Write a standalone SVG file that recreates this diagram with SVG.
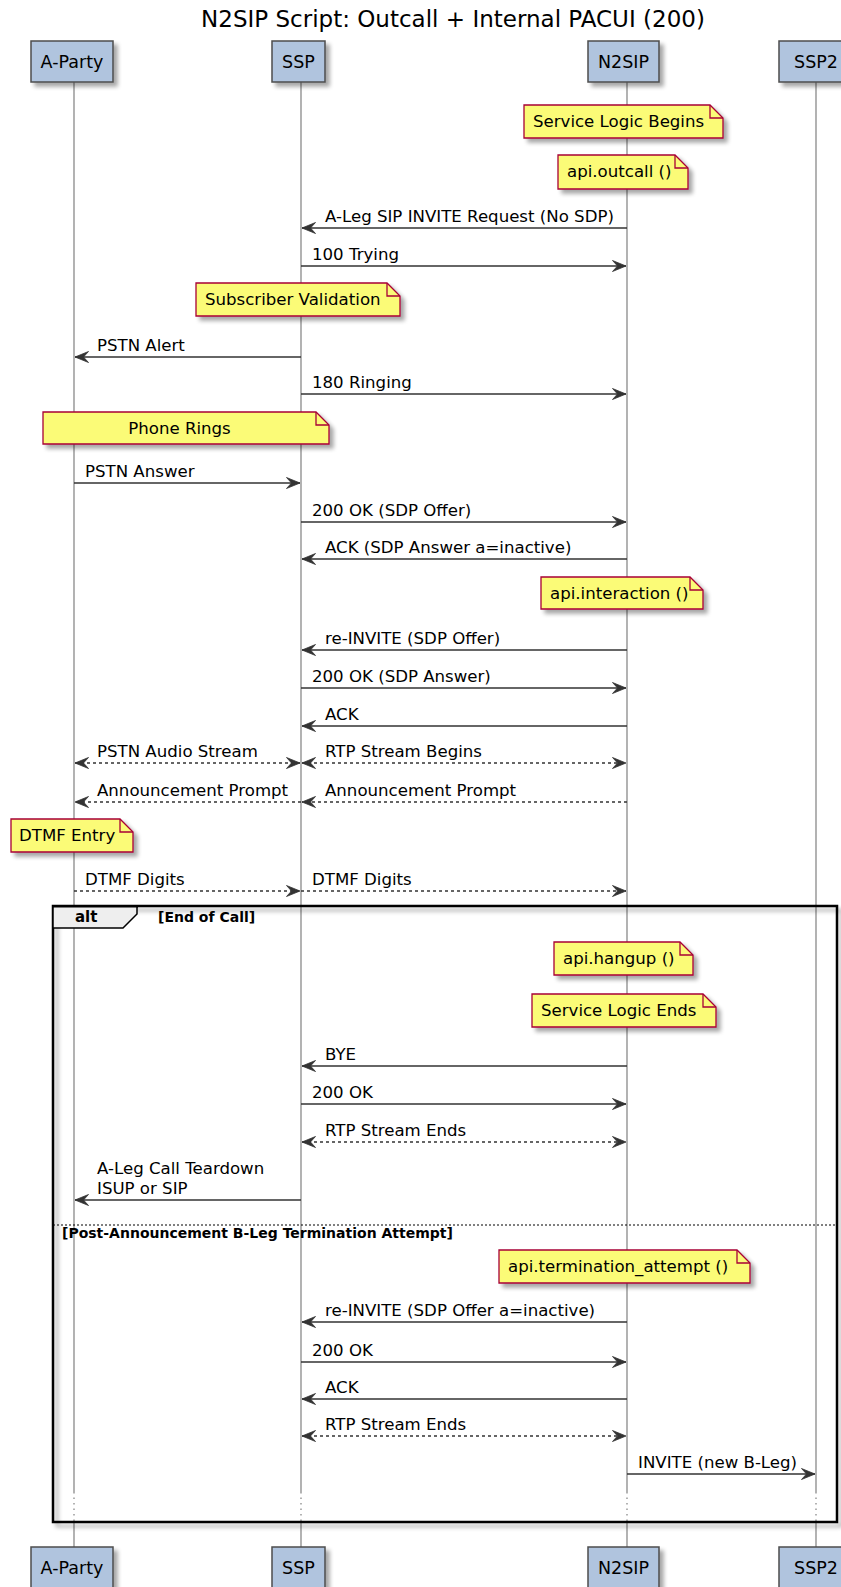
<svg xmlns="http://www.w3.org/2000/svg" width="841" height="1587" viewBox="0 0 841 1587">
<style>
text { font-family: "DejaVu Sans", "Liberation Sans", sans-serif; fill: #000; }
.title { font-size: 23px; text-anchor: middle; }
.pt { font-size: 17.5px; text-anchor: middle; }
.lbl { font-size: 16.6px; }
.nt { font-size: 16.6px; }
.b1 { font-size: 15px; font-weight: bold; }
.b2 { font-size: 14px; font-weight: bold; }
.pbox { fill: #B0C4DE; stroke: #4d4d4d; stroke-width: 1.5; }
.life { stroke: #8a8a8a; stroke-width: 1.3; fill: none; }
.dot { stroke-dasharray: 1.5 4; }
.note { fill: #FBFB77; stroke: #A80036; stroke-width: 1.3; }
.fold { fill: none; stroke: #A80036; stroke-width: 1.3; }
.msg { stroke: #333; stroke-width: 1.4; fill: none; marker-end: url(#ah); }
.dash { stroke-dasharray: 3 3; }
.both { marker-start: url(#ah); }
.frame { fill: none; stroke: #000; stroke-width: 2.5; }
.sep { stroke: #000; stroke-width: 1; stroke-dasharray: 2 2; }
.tab { fill: #EEEEEE; stroke: #000; stroke-width: 1.5; }
</style>
<defs>
<filter id="sh" x="-10%" y="-10%" width="130%" height="150%">
<feGaussianBlur in="SourceAlpha" stdDeviation="2"/>
<feOffset dx="4" dy="4"/>
<feComponentTransfer><feFuncA type="linear" slope="0.35"/></feComponentTransfer>
<feMerge><feMergeNode/><feMergeNode in="SourceGraphic"/></feMerge>
</filter>
<marker id="ah" markerUnits="userSpaceOnUse" markerWidth="15" markerHeight="13" refX="14" refY="6.5" orient="auto-start-reverse" viewBox="0 0 15 13">
<path d="M0.5,1 L14,6.5 L0.5,12 L5.5,6.5 Z" fill="#333" stroke="#333" stroke-width="0.8" stroke-linejoin="miter"/>
</marker>
</defs>
<rect width="841" height="1587" fill="#fff"/>
<text class="title" x="453" y="27">N2SIP Script: Outcall + Internal PACUI (200)</text>

<g id="lifelines">
<path class="life" d="M74,82 V1492 M301,82 V1492 M627,82 V1492 M816,82 V1492 M74,1520 V1547 M301,1520 V1547 M627,1520 V1547 M816,1520 V1547"/>
<path class="life dot" d="M74,1492 V1520 M301,1492 V1520 M627,1492 V1520 M816,1492 V1520"/>
</g>

<g id="p-aparty">
<rect class="pbox" x="31" y="41" width="82" height="41" filter="url(#sh)"/>
<text class="pt" x="72" y="68">A-Party</text>
<rect class="pbox" x="31" y="1547" width="82" height="41" filter="url(#sh)"/>
<text class="pt" x="72" y="1574">A-Party</text>
</g>
<g id="p-ssp">
<rect class="pbox" x="272" y="41" width="53" height="41" filter="url(#sh)"/>
<text class="pt" x="298.5" y="68">SSP</text>
<rect class="pbox" x="272" y="1547" width="53" height="41" filter="url(#sh)"/>
<text class="pt" x="298.5" y="1574">SSP</text>
</g>
<g id="p-n2sip">
<rect class="pbox" x="588" y="41" width="71" height="41" filter="url(#sh)"/>
<text class="pt" x="623.5" y="68">N2SIP</text>
<rect class="pbox" x="588" y="1547" width="71" height="41" filter="url(#sh)"/>
<text class="pt" x="623.5" y="1574">N2SIP</text>
</g>
<g id="p-ssp2">
<rect class="pbox" x="779" y="41" width="74" height="41" filter="url(#sh)"/>
<text class="pt" x="816" y="68">SSP2</text>
<rect class="pbox" x="779" y="1547" width="74" height="41" filter="url(#sh)"/>
<text class="pt" x="816" y="1574">SSP2</text>
</g>

<g id="note-slb">
<path class="note" filter="url(#sh)" d="M524,105 H710 L723,118 V138 H524 Z"/>
<path class="fold" d="M710,105 V118 H723"/>
<text class="nt" x="533" y="127">Service Logic Begins</text>
</g>
<g id="note-outcall">
<path class="note" filter="url(#sh)" d="M558,155 H675 L688,168 V189 H558 Z"/>
<path class="fold" d="M675,155 V168 H688"/>
<text class="nt" x="567" y="177">api.outcall ()</text>
</g>
<g id="note-subval">
<path class="note" filter="url(#sh)" d="M196,283 H387 L400,296 V316 H196 Z"/>
<path class="fold" d="M387,283 V296 H400"/>
<text class="nt" x="205" y="305">Subscriber Validation</text>
</g>
<g id="note-rings">
<path class="note" filter="url(#sh)" d="M43,412 H316 L329,425 V444 H43 Z"/>
<path class="fold" d="M316,412 V425 H329"/>
<text class="nt" x="179.5" y="434" text-anchor="middle">Phone Rings</text>
</g>
<g id="note-interaction">
<path class="note" filter="url(#sh)" d="M541,577 H690 L703,590 V609 H541 Z"/>
<path class="fold" d="M690,577 V590 H703"/>
<text class="nt" x="550" y="599">api.interaction ()</text>
</g>
<g id="note-dtmf">
<path class="note" filter="url(#sh)" d="M11,819 H120 L133,832 V852 H11 Z"/>
<path class="fold" d="M120,819 V832 H133"/>
<text class="nt" x="19" y="841">DTMF Entry</text>
</g>
<g id="note-hangup">
<path class="note" filter="url(#sh)" d="M554,942 H680 L693,955 V975 H554 Z"/>
<path class="fold" d="M680,942 V955 H693"/>
<text class="nt" x="563" y="964">api.hangup ()</text>
</g>
<g id="note-sle">
<path class="note" filter="url(#sh)" d="M532,994 H703 L716,1007 V1027 H532 Z"/>
<path class="fold" d="M703,994 V1007 H716"/>
<text class="nt" x="541" y="1016">Service Logic Ends</text>
</g>
<g id="note-term">
<path class="note" filter="url(#sh)" d="M499,1250 H737 L750,1263 V1283 H499 Z"/>
<path class="fold" d="M737,1250 V1263 H750"/>
<text class="nt" x="508" y="1272">api.termination_attempt ()</text>
</g>

<g id="alt-frame">
<rect class="frame" x="53" y="906" width="784" height="616" filter="url(#sh)"/>
<path class="tab" d="M53,906 H137 V914 L123,928 H53 Z"/>
<rect x="52" y="905" width="86" height="2.5" fill="#000"/>
<text class="b1" x="75" y="922">alt</text>
<text class="b2" x="158" y="922">[End of Call]</text>
<line class="sep" x1="53" y1="1225" x2="837" y2="1225"/>
<text class="b2" x="62" y="1238">[Post-Announcement B-Leg Termination Attempt]</text>
</g>

<g id="connectors">
<line class="msg" x1="627" y1="228" x2="302" y2="228"/>
<text class="lbl" x="325" y="221.5">A-Leg SIP INVITE Request (No SDP)</text>
<line class="msg" x1="301" y1="266" x2="626" y2="266"/>
<text class="lbl" x="312" y="259.5">100 Trying</text>
<line class="msg" x1="301" y1="357" x2="75" y2="357"/>
<text class="lbl" x="97" y="350.5">PSTN Alert</text>
<line class="msg" x1="301" y1="394" x2="626" y2="394"/>
<text class="lbl" x="312" y="387.5">180 Ringing</text>
<line class="msg" x1="74" y1="483" x2="300" y2="483"/>
<text class="lbl" x="85" y="476.5">PSTN Answer</text>
<line class="msg" x1="301" y1="522" x2="626" y2="522"/>
<text class="lbl" x="312" y="515.5">200 OK (SDP Offer)</text>
<line class="msg" x1="627" y1="559" x2="302" y2="559"/>
<text class="lbl" x="325" y="552.5">ACK (SDP Answer a=inactive)</text>
<line class="msg" x1="627" y1="650" x2="302" y2="650"/>
<text class="lbl" x="325" y="643.5">re-INVITE (SDP Offer)</text>
<line class="msg" x1="301" y1="688" x2="626" y2="688"/>
<text class="lbl" x="312" y="681.5">200 OK (SDP Answer)</text>
<line class="msg" x1="627" y1="726" x2="302" y2="726"/>
<text class="lbl" x="325" y="719.5">ACK</text>
<line class="msg dash both" x1="75" y1="763" x2="300" y2="763"/>
<text class="lbl" x="97" y="756.5">PSTN Audio Stream</text>
<line class="msg dash both" x1="302" y1="763" x2="626" y2="763"/>
<text class="lbl" x="325" y="756.5">RTP Stream Begins</text>
<line class="msg dash" x1="301" y1="802" x2="75" y2="802"/>
<text class="lbl" x="97" y="795.5">Announcement Prompt</text>
<line class="msg dash" x1="627" y1="802" x2="302" y2="802"/>
<text class="lbl" x="325" y="795.5">Announcement Prompt</text>
<line class="msg dash" x1="74" y1="891" x2="300" y2="891"/>
<text class="lbl" x="85" y="884.5">DTMF Digits</text>
<line class="msg dash" x1="301" y1="891" x2="626" y2="891"/>
<text class="lbl" x="312" y="884.5">DTMF Digits</text>
<line class="msg" x1="627" y1="1066" x2="302" y2="1066"/>
<text class="lbl" x="325" y="1059.5">BYE</text>
<line class="msg" x1="301" y1="1104" x2="626" y2="1104"/>
<text class="lbl" x="312" y="1097.5">200 OK</text>
<line class="msg dash both" x1="302" y1="1142" x2="626" y2="1142"/>
<text class="lbl" x="325" y="1135.5">RTP Stream Ends</text>
<line class="msg" x1="301" y1="1200" x2="75" y2="1200"/>
<text class="lbl" x="97" y="1174">A-Leg Call Teardown</text>
<text class="lbl" x="97" y="1193.5">ISUP or SIP</text>
<line class="msg" x1="627" y1="1322" x2="302" y2="1322"/>
<text class="lbl" x="325" y="1315.5">re-INVITE (SDP Offer a=inactive)</text>
<line class="msg" x1="301" y1="1362" x2="626" y2="1362"/>
<text class="lbl" x="312" y="1355.5">200 OK</text>
<line class="msg" x1="627" y1="1399" x2="302" y2="1399"/>
<text class="lbl" x="325" y="1392.5">ACK</text>
<line class="msg dash both" x1="302" y1="1436" x2="626" y2="1436"/>
<text class="lbl" x="325" y="1429.5">RTP Stream Ends</text>
<line class="msg" x1="627" y1="1474" x2="815" y2="1474"/>
<text class="lbl" x="638" y="1467.5">INVITE (new B-Leg)</text>
</g>
</svg>
